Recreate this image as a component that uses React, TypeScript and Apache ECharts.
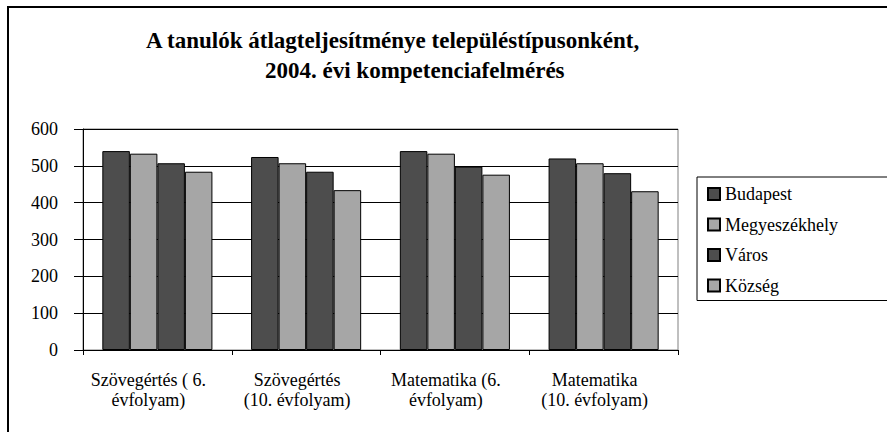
import React, { useEffect, useRef } from "react";
import * as echarts from "echarts";

const categories = [
  "Szövegértés ( 6.\névfolyam)",
  "Szövegértés\n(10. évfolyam)",
  "Matematika (6.\névfolyam)",
  "Matematika\n(10. évfolyam)",
];
const seriesNames = ["Budapest", "Megyeszékhely", "Város", "Község"];
const budapest = [540, 524, 540, 520];
const megyeszekhely = [533, 507, 533, 507];
const varos = [507, 484, 498, 480];
const kozseg = [484, 434, 476, 431];
const yTicks = { min: 0, max: 600, interval: 100 };
const titleLine1 = "A tanulók átlagteljesítménye településtípusonként,";
const titleLine2 = "2004. évi kompetenciafelmérés";

const DARK = "#4d4d4d";
const LIGHT = "#a6a6a6";
const FONT = "Liberation Serif";

export default function App() {
  const ref = useRef<HTMLDivElement>(null);
  useEffect(() => {
    if (!ref.current) return;
    const chart = echarts.init(ref.current, null, { renderer: "svg" });
    const values = [budapest, megyeszekhely, varos, kozseg];
    const colors = [DARK, LIGHT, DARK, LIGHT];
    chart.setOption({
      animation: false,
      backgroundColor: "#ffffff",
      textStyle: { fontFamily: FONT, color: "#000" },
      graphic: [
        {
          type: "rect",
          shape: { x: 8, y: 7, width: 900, height: 440 },
          style: { fill: "none", stroke: "#000", lineWidth: 2 },
          silent: true,
        },
        {
          type: "text",
          x: 146,
          y: 40,
          style: {
            text: titleLine1,
            fontFamily: FONT,
            fontSize: 23,
            fontWeight: "bold",
            fill: "#000",
            textAlign: "left",
            textVerticalAlign: "middle",
          },
        },
        {
          type: "text",
          x: 265,
          y: 70,
          style: {
            text: titleLine2,
            fontFamily: FONT,
            fontSize: 23,
            fontWeight: "bold",
            fill: "#000",
            textAlign: "left",
            textVerticalAlign: "middle",
          },
        },
      ],
      legend: {
        orient: "vertical",
        left: 697,
        top: 177,
        padding: [8, 70, 6, 10],
        itemGap: 12.5,
        itemWidth: 12,
        itemHeight: 12,
        icon: "rect",
        borderColor: "#000",
        borderWidth: 1,
        backgroundColor: "#fff",
        textStyle: { fontFamily: FONT, fontSize: 18, color: "#000" },
        data: seriesNames,
      },
      grid: {
        left: 83,
        top: 129,
        right: 209,
        bottom: 82,
        show: true,
        borderColor: "#808080",
        borderWidth: 1,
      },
      xAxis: {
        type: "category",
        data: categories,
        axisLine: { show: true, lineStyle: { color: "#000", width: 1 } },
        axisTick: { show: true, length: 5, lineStyle: { color: "#000" } },
        axisLabel: {
          margin: 20,
          fontFamily: FONT,
          fontSize: 18,
          lineHeight: 20,
          color: "#000",
          interval: 0,
          padding: [0, 18, 0, 0],
        },
        splitLine: { show: false },
      },
      yAxis: {
        type: "value",
        min: yTicks.min,
        max: yTicks.max,
        interval: yTicks.interval,
        axisLine: { show: true, lineStyle: { color: "#000", width: 1 } },
        axisTick: { show: true, length: 9, lineStyle: { color: "#000" } },
        axisLabel: { margin: 25, fontFamily: FONT, fontSize: 18, color: "#000" },
        splitLine: { show: true, lineStyle: { color: "#000", width: 1 } },
      },
      series: seriesNames.map((name, i) => ({
        name,
        type: "bar",
        data: values[i],
        barGap: "0%",
        barCategoryGap: "26%",
        itemStyle: { color: colors[i], borderColor: "#000", borderWidth: 1 },
      })),
    });
    return () => chart.dispose();
  }, []);
  return (
    <div
      ref={ref}
      style={{ position: "absolute", left: 0, top: 0, width: 887, height: 432 }}
    />
  );
}
